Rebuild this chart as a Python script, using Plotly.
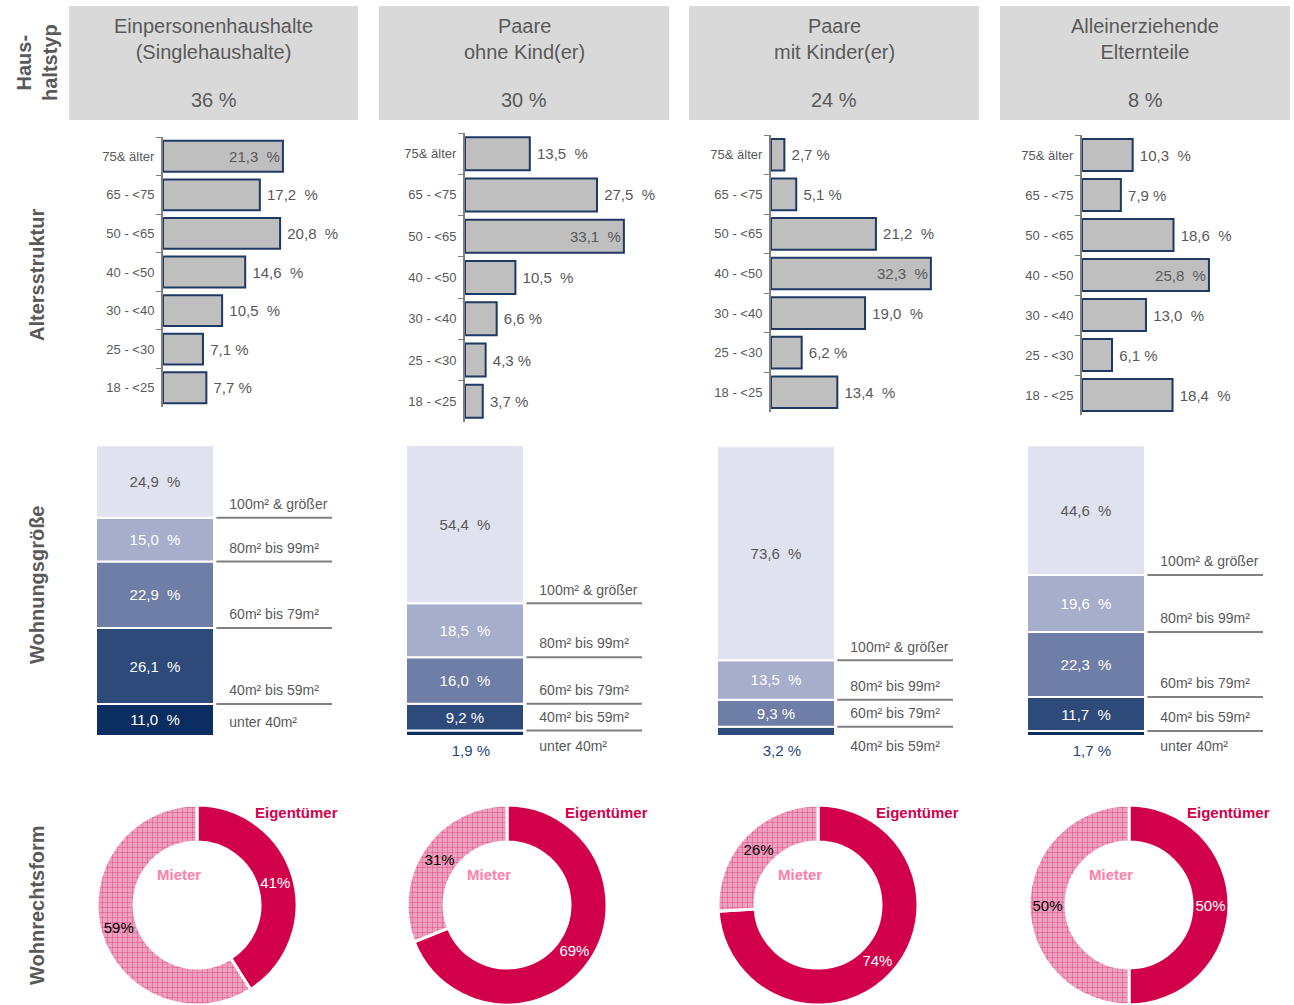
import plotly.graph_objects as go

W, H = 1294, 1005

# Haushaltstypen (Kopfzeile)
households = ["Einpersonenhaushalte<br>(Singlehaushalte)", "Paare<br>ohne Kind(er)",
              "Paare<br>mit Kinder(er)", "Alleinerziehende<br>Elternteile"]
household_share = [36, 30, 24, 8]

# Altersstruktur, von oben nach unten
age_groups = ["75& älter", "65 - <75", "50 - <65", "40 - <50", "30 - <40", "25 - <30", "18 - <25"]
age_single = [21.3, 17.2, 20.8, 14.6, 10.5, 7.1, 7.7]
age_couple = [13.5, 27.5, 33.1, 10.5, 6.6, 4.3, 3.7]
age_family = [2.7, 5.1, 21.2, 32.3, 19.0, 6.2, 13.4]
age_single_parent = [10.3, 7.9, 18.6, 25.8, 13.0, 6.1, 18.4]

# Wohnungsgröße, von oben nach unten
sizes = ["100m² & größer", "80m² bis 99m²", "60m² bis 79m²", "40m² bis 59m²", "unter 40m²"]
size_single = [24.9, 15.0, 22.9, 26.1, 11.0]
size_couple = [54.4, 18.5, 16.0, 9.2, 1.9]
size_family = [73.6, 13.5, 9.3, 3.2]
size_single_parent = [44.6, 19.6, 22.3, 11.7, 1.7]

# Wohnrechtsform
tenure = ["Eigentümer", "Mieter"]
owner_share = [41, 69, 74, 50]
renter_share = [59, 31, 26, 50]

GREY = "#595959"
FONT = "Liberation Sans, Arial, sans-serif"
size_colors = ["#e0e2ef", "#a7aecc", "#6f7ea7", "#2e4a7b", "#0b2d5f"]


def px(x):
    return x / W


def py(y):
    return 1 - y / H


def fmt(v):
    sep = "\u00a0 " if v >= 10 else " "
    return f"{v:.1f}".replace(".", ",") + sep + "%"


def ax_names(n):
    s = "" if n == 1 else str(n)
    return "x" + s, "y" + s, "xaxis" + s, "yaxis" + s


def note(x, y, text, **kw):
    fig.add_annotation(x=px(x), y=py(y), xref="paper", yref="paper", text=text, showarrow=False,
                       xanchor="center", yanchor="middle", **kw)


fig = go.Figure()
layout = {}

# Kopfzeile
col_left = [69, 379, 689, 1000]
col_right = [358, 669, 979, 1290]
for i in range(4):
    fig.add_shape(type="rect", xref="paper", yref="paper", x0=px(col_left[i]), x1=px(col_right[i]),
                  y0=py(120), y1=py(6), fillcolor="#d9d9d9", line_width=0, layer="below")
    cx = (col_left[i] + col_right[i]) / 2
    note(cx, 39, households[i], font=dict(size=20, color=GREY))
    note(cx, 100, f"{household_share[i]} %", font=dict(size=20, color=GREY))

# Zeilenbeschriftungen
row_labels = [("Haus-<br>haltstyp", 63), ("Altersstruktur", 275), ("Wohnungsgröße", 585), ("Wohnrechtsform", 905)]
for txt, yy in row_labels:
    note(37, yy, f"<b>{txt}</b>", textangle=-90, font=dict(size=20, color=GREY))

# Altersstruktur
age_series = [age_single, age_couple, age_family, age_single_parent]
age_axis_x = [163, 465, 771, 1082]
age_scale = [5.63, 4.80, 4.95, 4.92]
age_top = [137, 133, 135, 135]
age_bottom = [407, 422, 412, 415]
for i, vals in enumerate(age_series):
    xr, yr, xa, ya = ax_names(i + 1)
    best = max(vals)
    fig.add_trace(go.Bar(
        x=vals, y=age_groups, orientation="h", width=0.8,
        marker=dict(color="#bfbfbf", line=dict(color="#1f3864", width=2)),
        text=[fmt(v) if v == best else " " + fmt(v) for v in vals],
        textposition=["inside" if v == best else "outside" for v in vals],
        insidetextanchor="end", textfont=dict(size=15, color=GREY),
        cliponaxis=False, hoverinfo="skip", xaxis=xr, yaxis=yr))
    layout[xa] = dict(domain=[px(age_axis_x[i]), px(age_axis_x[i] + 190)], range=[0, 190 / age_scale[i]],
                      visible=False, anchor=yr)
    layout[ya] = dict(domain=[py(age_bottom[i]), py(age_top[i])], type="category",
                      categoryorder="array", categoryarray=age_groups, range=[6.5, -0.5],
                      showline=True, linecolor="#808080", linewidth=2, ticks="outside",
                      tickson="boundaries", ticklen=5, tickcolor="#808080", tickwidth=1,
                      ticklabelstandoff=4, tickfont=dict(size=13, color=GREY),
                      showgrid=False, zeroline=False, anchor=xr)

# Wohnungsgröße
size_series = [size_single, size_couple, size_family, size_single_parent]
size_left = [96, 406, 717, 1027]
bar_w = 118
unit = 2.91
for i, vals in enumerate(size_series):
    xr, yr, xa, ya = ax_names(i + 5)
    cats = sizes[:len(vals)]
    base = 0.0
    line_x, line_y = [], []
    lab_x, lab_y, lab_t, lab_pos = [], [], [], []
    for v, c in zip(vals[::-1], cats[::-1]):
        k = sizes.index(c)
        small = v < 5
        fig.add_trace(go.Bar(
            x=[0.5], y=[v], base=[base], width=[1],
            marker=dict(color=size_colors[k], line=dict(color="white", width=2)),
            text=["" if small else fmt(v)], textposition="inside", insidetextanchor="middle",
            textfont=dict(size=15, color=GREY if k == 0 else "white"),
            hoverinfo="skip", xaxis=xr, yaxis=yr))
        if small:
            fig.add_trace(go.Scatter(x=[0.55], y=[base - 3], mode="text", text=[fmt(v)],
                                     textposition="bottom center", textfont=dict(size=15, color="#1f497d"),
                                     hoverinfo="skip", xaxis=xr, yaxis=yr, cliponaxis=False))
        if base > 0:
            line_x += [1.02, 2.0, None]
            line_y += [base, base, None]
        lab_x.append(1.13)
        if small and base == 0:
            lab_y.append(base - 1.5)
            lab_pos.append("bottom right")
        else:
            lab_y.append(base + 1.8)
            lab_pos.append("top right")
        lab_t.append(c)
        base += v
    fig.add_trace(go.Scatter(x=line_x, y=line_y, mode="lines", line=dict(color="#808080", width=2),
                             hoverinfo="skip", xaxis=xr, yaxis=yr))
    fig.add_trace(go.Scatter(x=lab_x, y=lab_y, mode="text", text=lab_t, textposition=lab_pos,
                             textfont=dict(size=14, color=GREY), hoverinfo="skip",
                             xaxis=xr, yaxis=yr, cliponaxis=False))
    layout[xa] = dict(domain=[px(size_left[i]), px(size_left[i] + bar_w * 2.1)], range=[0, 2.1],
                      visible=False, anchor=yr)
    layout[ya] = dict(domain=[py(736 + 9 * unit), py(445)], range=[-9, 100], visible=False, anchor=xr)

# Wohnrechtsform
pie_cx = [197, 507, 818, 1129]
for i in range(4):
    c = pie_cx[i]
    fig.add_trace(go.Pie(
        labels=tenure, values=[owner_share[i], renter_share[i]], hole=0.63, sort=False,
        direction="clockwise", rotation=0,
        domain=dict(x=[px(c - 100), px(c + 100)], y=[py(1005), py(805)]),
        marker=dict(colors=["#d2004b", "#f0a3c2"], line=dict(color="white", width=3),
                    pattern=dict(shape=["", "+"], fgcolor=["#d2004b", "#d8336e"],
                                 bgcolor=["#d2004b", "#eea0c0"], size=5, solidity=0.15)),
        texttemplate="%{value}%", textposition="inside", insidetextorientation="horizontal",
        textfont=dict(size=15, color=["white", "black"]), hoverinfo="skip", showlegend=False))
    note(c + 99, 812, "<b>Eigentümer</b>", font=dict(size=15, color="#d2004b"))
    note(c - 18, 874, "<b>Mieter</b>", font=dict(size=15, color="#ff7faa"))

fig.update_layout(width=W, height=H, margin=dict(l=0, r=0, t=0, b=0), showlegend=False,
                  barmode="overlay", paper_bgcolor="white", plot_bgcolor="white",
                  font=dict(family=FONT, color=GREY), **layout)

fig.write_html("out.html", config={"displayModeBar": False},
               post_script="document.body.style.margin = '0';")
